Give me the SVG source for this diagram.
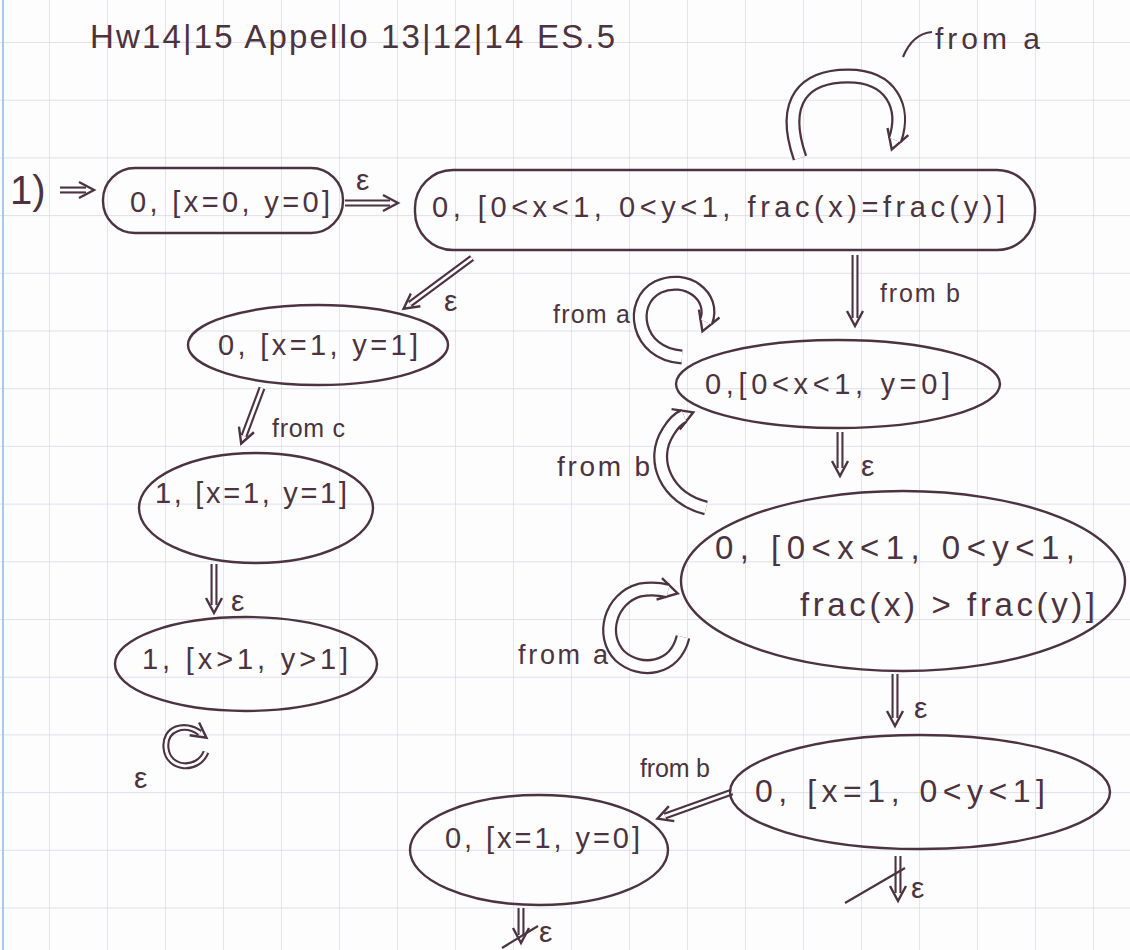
<svg xmlns="http://www.w3.org/2000/svg" width="1130" height="950" viewBox="0 0 1130 950">
<defs>
<style>
.n{fill:none;stroke:#4b3340;stroke-width:2.4}
.t{font-family:"Liberation Sans",sans-serif;font-size:29px;fill:#4b3340}
.l{font-family:"Liberation Sans",sans-serif;font-size:25px;fill:#4b3340}
.e{font-family:"Liberation Sans",sans-serif;font-size:30px;fill:#4b3340}
.o{fill:none;stroke:#4b3340;stroke-width:7}
.i{fill:none;stroke:#ffffff;stroke-width:2.8}
.ow{fill:none;stroke:#4b3340;stroke-width:15}
.iw{fill:none;stroke:#ffffff;stroke-width:10.5}
.s{fill:none;stroke:#4b3340;stroke-width:2.2}
</style>
<pattern id="grid" patternUnits="userSpaceOnUse" x="49" y="42" width="58" height="57.7">
<path d="M0,0 V57.7 M0,0 H58" fill="none" stroke="#d6d6ec" stroke-width="1.3"/>
</pattern>
<marker id="ah" markerUnits="userSpaceOnUse" markerWidth="24" markerHeight="24" viewBox="0 0 24 24" refX="10" refY="12" orient="auto">
<path d="M3,4 L18,12 L3,20" fill="none" stroke="#4b3340" stroke-width="2.4"/>
</marker>
<marker id="ahw" markerUnits="userSpaceOnUse" markerWidth="30" markerHeight="30" viewBox="0 0 30 30" refX="12" refY="15" orient="auto">
<path d="M3,4 L22,15 L3,26" fill="none" stroke="#4b3340" stroke-width="2.4"/>
</marker>
</defs>
<rect width="1130" height="950" fill="#fdfdfd"/>
<rect width="1130" height="950" fill="url(#grid)"/>
<line x1="3" y1="0" x2="3" y2="950" stroke="#a9c9ea" stroke-width="2"/>

<text class="t" x="90" y="48" style="font-size:33px" textLength="525" lengthAdjust="spacing">Hw14|15  Appello 13|12|14  ES.5</text>
<text class="t" x="10" y="204" style="font-size:40px">1)</text>

<g id="connectors">
<g id="e0"><path class="o" d="M60,190 L86,190" marker-end="url(#ah)"/><path class="i" d="M60,190 L86,190"/></g>
<g id="e1"><path class="o" d="M345,203 L390,203" marker-end="url(#ah)"/><path class="i" d="M345,203 L390,203"/><text class="e" x="356" y="190">ε</text></g>
<g id="e2"><path class="ow" d="M800,158 C780,100 805,76 848,76 C892,76 906,108 895,140" marker-end="url(#ahw)"/><path class="iw" d="M800,158 C780,100 805,76 848,76 C892,76 906,108 895,140"/><path class="s" d="M903,57 C910,40 920,33 932,32"/><text class="l" x="935" y="49" style="font-size:30px" textLength="105" lengthAdjust="spacing">from a</text></g>
<g id="e3"><path class="o" d="M472,258 L410,304" marker-end="url(#ah)"/><path class="i" d="M472,258 L410,304"/><text class="e" x="444" y="311">ε</text></g>
<g id="e4"><path class="o" d="M262,388 L244,436" marker-end="url(#ah)"/><path class="i" d="M262,388 L244,436"/><text class="l" x="272" y="437" textLength="73" lengthAdjust="spacing">from c</text></g>
<g id="e5"><path class="o" d="M214,564 L214,605" marker-end="url(#ah)"/><path class="i" d="M214,564 L214,605"/><text class="e" x="231" y="611">ε</text></g>
<g id="e6"><path class="o" d="M206,752 C198,772 168,770 166,748 C164,728 185,722 200,733" marker-end="url(#ah)"/><path class="i" d="M206,752 C198,772 168,770 166,748 C164,728 185,722 200,733"/><text class="e" x="134" y="788">ε</text></g>
<g id="e7"><path class="o" d="M855,255 L855,318" marker-end="url(#ah)"/><path class="i" d="M855,255 L855,318"/><text class="l" x="880" y="302" textLength="80" lengthAdjust="spacing">from b</text></g>
<g id="e8"><path class="ow" d="M682,357 C636,354 628,302 658,287 C686,274 716,296 706,322" marker-end="url(#ahw)"/><path class="iw" d="M682,357 C636,354 628,302 658,287 C686,274 716,296 706,322"/><text class="l" x="553" y="323" textLength="77" lengthAdjust="spacing">from a</text></g>
<g id="e9"><path class="o" d="M840,432 L840,468" marker-end="url(#ah)"/><path class="i" d="M840,432 L840,468"/><text class="e" x="861" y="476">ε</text></g>
<g id="e10"><path class="ow" d="M706,508 C666,498 650,460 668,432 C674,422 679,418 684,416" marker-end="url(#ahw)"/><path class="iw" d="M706,508 C666,498 650,460 668,432 C674,422 679,418 684,416"/><text class="l" x="557" y="476" style="font-size:28px" textLength="93" lengthAdjust="spacing">from b</text></g>
<g id="e11"><path class="ow" d="M683,637 C675,670 640,674 620,656 C600,636 610,598 640,590 C652,588 660,589 668,591" marker-end="url(#ahw)"/><path class="iw" d="M683,637 C675,670 640,674 620,656 C600,636 610,598 640,590 C652,588 660,589 668,591"/><text class="l" x="518" y="664" style="font-size:27px" textLength="90" lengthAdjust="spacing">from a</text></g>
<g id="e12"><path class="o" d="M895,674 L895,718" marker-end="url(#ah)"/><path class="i" d="M895,674 L895,718"/><text class="e" x="914" y="718">ε</text></g>
<g id="e13"><path class="o" d="M732,792 L665,816" marker-end="url(#ah)"/><path class="i" d="M732,792 L665,816"/><text class="l" x="640" y="777" textLength="70" lengthAdjust="spacing">from b</text></g>
<g id="e14"><path class="o" d="M898,856 L898,893" marker-end="url(#ah)"/><path class="i" d="M898,856 L898,893"/><path class="s" d="M845,903 L905,868"/><text class="e" x="911" y="898">ε</text></g>
<g id="e15"><path class="o" d="M521,908 L521,935" marker-end="url(#ah)"/><path class="i" d="M521,908 L521,935"/><path class="s" d="M502,948 L538,926"/><text class="e" x="539" y="942">ε</text></g>
</g>

<g id="nA"><rect class="n" x="103" y="168" width="240" height="65" rx="32"/><text class="t" x="130" y="212" textLength="200" lengthAdjust="spacing">0, [x=0, y=0]</text></g>
<g id="nB"><rect class="n" x="415" y="170" width="620" height="80" rx="38"/><text class="t" x="432" y="217" textLength="573" lengthAdjust="spacing">0, [0&lt;x&lt;1, 0&lt;y&lt;1, frac(x)=frac(y)]</text></g>
<g id="nC"><ellipse class="n" cx="318" cy="345" rx="130" ry="40"/><text class="t" x="218" y="355" textLength="200" lengthAdjust="spacing">0, [x=1, y=1]</text></g>
<g id="nD"><ellipse class="n" cx="256" cy="508" rx="117" ry="55"/><text class="t" x="155" y="503" textLength="192" lengthAdjust="spacing">1, [x=1, y=1]</text></g>
<g id="nE"><ellipse class="n" cx="246" cy="664" rx="131" ry="47"/><text class="t" x="142" y="669" textLength="206" lengthAdjust="spacing">1, [x&gt;1, y&gt;1]</text></g>
<g id="nF"><ellipse class="n" cx="838" cy="384" rx="162" ry="44"/><text class="t" x="705" y="394" textLength="245" lengthAdjust="spacing">0,[0&lt;x&lt;1, y=0]</text></g>
<g id="nG"><ellipse class="n" cx="903" cy="581" rx="222" ry="90"/><text class="t" x="715" y="559" style="font-size:33px" textLength="360" lengthAdjust="spacing">0, [0&lt;x&lt;1, 0&lt;y&lt;1,</text><text class="t" x="800" y="616" style="font-size:33px" textLength="295" lengthAdjust="spacing">frac(x) &gt; frac(y)]</text></g>
<g id="nH"><ellipse class="n" cx="920" cy="792" rx="190" ry="57"/><text class="t" x="755" y="802" style="font-size:32px" textLength="290" lengthAdjust="spacing">0, [x=1, 0&lt;y&lt;1]</text></g>
<g id="nI"><ellipse class="n" cx="539" cy="850" rx="129" ry="55"/><text class="t" x="445" y="848" textLength="195" lengthAdjust="spacing">0, [x=1, y=0]</text></g>
</svg>
